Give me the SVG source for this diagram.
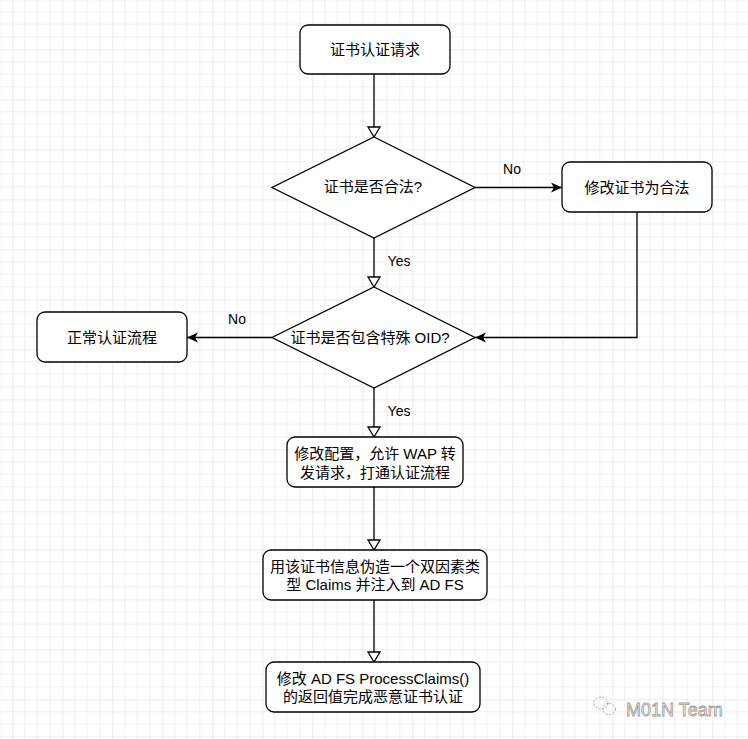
<svg xmlns="http://www.w3.org/2000/svg" width="748" height="739" viewBox="0 0 748 739">
<defs>
<pattern id="grid" patternUnits="userSpaceOnUse" x="12.3" y="-0.7" width="50" height="50">
<path d="M12.5,0V50M25,0V50M37.5,0V50M0,12.5H50M0,25H50M0,37.5H50" stroke="#efefef" stroke-width="1" fill="none"/>
<path d="M0,0V50M0,0H50" stroke="#dadada" stroke-width="1" fill="none"/>
</pattern>
<marker id="open" markerUnits="userSpaceOnUse" viewBox="-1 -1 12 14" markerWidth="12" markerHeight="14" refX="10" refY="6" orient="auto" overflow="visible">
<path d="M0,0 L10,6 L0,12 Z" fill="#fff" stroke="#000" stroke-width="1.3"/>
</marker>
<marker id="fill" markerUnits="userSpaceOnUse" viewBox="0 0 11 10" markerWidth="11" markerHeight="10" refX="11" refY="5" orient="auto" overflow="visible">
<path d="M0,0 L11,5 L0,10 L3,5 Z" fill="#000"/>
</marker>
<style>
.box{fill:#fff;stroke:#000;stroke-width:1.3}
.t{font-family:"Liberation Sans","Noto Sans CJK SC",sans-serif;font-size:15px;fill:#000;text-anchor:middle;dominant-baseline:central}
.lbl{font-family:"Liberation Sans","Noto Sans CJK SC",sans-serif;font-size:14px;fill:#000;text-anchor:middle;dominant-baseline:central}
.c{fill:none;stroke:#000;stroke-width:1.3}
</style>
</defs>
<rect width="748" height="739" fill="#fff"/>
<rect width="748" height="739" fill="url(#grid)"/>

<g id="connectors">
<path class="c" d="M374,74 V137" marker-end="url(#open)"/>
<path class="c" d="M475,187.5 H562" marker-end="url(#fill)"/>
<path class="c" d="M374,238 V287" marker-end="url(#open)"/>
<path class="c" d="M637,212 V337.5 H475" marker-end="url(#fill)"/>
<path class="c" d="M272,337.5 H187" marker-end="url(#fill)"/>
<path class="c" d="M374,388 V437" marker-end="url(#open)"/>
<path class="c" d="M374,487 V550" marker-end="url(#open)"/>
<path class="c" d="M374,600 V662" marker-end="url(#open)"/>
<text class="lbl" x="512" y="169">No</text>
<text class="lbl" x="399" y="261">Yes</text>
<text class="lbl" x="237" y="319">No</text>
<text class="lbl" x="399" y="411">Yes</text>
</g>

<g id="start">
<rect class="box" x="300" y="25" width="150" height="49" rx="8"/>
<text class="t" x="375" y="49.5">证书认证请求</text>
</g>
<g id="check-valid">
<path class="box" d="M374,137 L475,187.5 L374,238 L272,187.5 Z"/>
<text class="t" x="373" y="186">证书是否合法?</text>
</g>
<g id="fix-cert">
<rect class="box" x="562" y="162" width="150" height="50" rx="8"/>
<text class="t" x="637" y="187">修改证书为合法</text>
</g>
<g id="check-oid">
<path class="box" d="M374,287 L475,337.5 L374,388 L272,337.5 Z"/>
<text class="t" x="370" y="337">证书是否包含特殊 OID?</text>
</g>
<g id="normal">
<rect class="box" x="37" y="312" width="150" height="50" rx="8"/>
<text class="t" x="112" y="337">正常认证流程</text>
</g>
<g id="config">
<rect class="box" x="287" y="437" width="176" height="50" rx="8"/>
<text class="t" x="375" y="453.5">修改配置，允许 WAP 转</text>
<text class="t" x="375" y="472">发请求，打通认证流程</text>
</g>
<g id="forge">
<rect class="box" x="263" y="550" width="224" height="50" rx="8"/>
<text class="t" x="375" y="566">用该证书信息伪造一个双因素类</text>
<text class="t" x="375" y="584">型 Claims 并注入到 AD FS</text>
</g>
<g id="modify">
<rect class="box" x="266" y="662" width="214" height="50" rx="8"/>
<text class="t" x="373" y="678">修改 AD FS ProcessClaims()</text>
<text class="t" x="373" y="696">的返回值完成恶意证书认证</text>
</g>

<g id="watermark" fill="none" stroke="#aaa" stroke-width="1" stroke-dasharray="2 1.5">
<ellipse cx="601" cy="703" rx="7" ry="6"/>
<ellipse cx="609" cy="709" rx="6.5" ry="5.5"/>
</g>
<text x="626" y="716" font-family="Liberation Sans, sans-serif" font-size="18" fill="#fff" stroke="#999" stroke-width="0.8">M01N Team</text>
</svg>
